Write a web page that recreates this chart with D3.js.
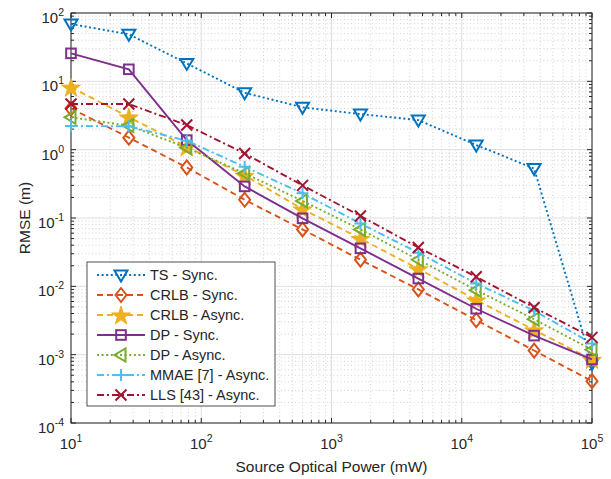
<!DOCTYPE html>
<html>
<head>
<meta charset="utf-8">
<script src="https://cdn.jsdelivr.net/npm/d3@7"></script>
<style>
  body { margin: 0; background: #fff; }
  text { font-family: "Liberation Sans", Arial, Helvetica, sans-serif; fill: #262626; }
</style>
</head>
<body>
<script>
const w = 611;
const h = 479;
const mLeft = 71, mRight = 592, mTop = 13, mBottom = 423;

// source optical power (mW), logspace(1,5,10)
const power = [10, 27.8, 77.4, 215.4, 599.5, 1668, 4642, 12915, 35938, 100000];

const tsSync    = [69, 48.8, 18.3, 6.8, 4.16, 3.32, 2.71, 1.17, 0.53, 0.00075];
const crlbSync  = [4.0, 1.5, 0.55, 0.185, 0.068, 0.0245, 0.0090, 0.0032, 0.00115, 0.00041];
const crlbAsync = [8.2, 3.0, 1.1, 0.42, 0.135, 0.050, 0.018, 0.0063, 0.0023, 0.00085];
const dpSync    = [25.7, 15.0, 1.38, 0.29, 0.099, 0.036, 0.013, 0.0047, 0.0019, 0.00085];
const dpAsync   = [2.97, 2.25, 1.07, 0.45, 0.178, 0.068, 0.0245, 0.0088, 0.0033, 0.00118];
const mmae      = [2.22, 2.2, 1.35, 0.56, 0.23, 0.083, 0.031, 0.011, 0.0044, 0.00146];
const lls       = [4.65, 4.65, 2.29, 0.88, 0.30, 0.107, 0.037, 0.0138, 0.0049, 0.00179];

const names = ["TS - Sync.", "CRLB - Sync.", "CRLB - Async.", "DP - Sync.", "DP - Async.", "MMAE [7] - Async.", "LLS [43] - Async."];
const colors = ["#0072BD", "#D95319", "#EDB120", "#7E2F8E", "#77AC30", "#4DBEEE", "#A2142F"];
const dashes = ["2,2.6", "6,4", "6,4", null, "2,2.6", "7,3,2,3", "7,3,2,3"];
const markers = ["tri-down", "diamond", "star", "square", "tri-left", "plus", "cross"];

const series = [tsSync, crlbSync, crlbAsync, dpSync, dpAsync, mmae, lls].map((v, i) => ({
  name: names[i], color: colors[i], dash: dashes[i], marker: markers[i], values: v
}));

const xTicks = [1e1, 1e2, 1e3, 1e4, 1e5];
const yTicks = [1e-4, 1e-3, 1e-2, 1e-1, 1e0, 1e1, 1e2];

const x = d3.scaleLog().domain([10, 1e5]).range([mLeft, mRight]);
const y = d3.scaleLog().domain([1e-4, 1e2]).range([mBottom, mTop]);

const svg = d3.select("body").append("svg")
  .attr("width", w)
  .attr("height", h);

// minor values
function minors(lo, hi) {
  let out = [];
  for (let e = Math.round(Math.log10(lo)); e < Math.round(Math.log10(hi)); e++) {
    for (let k = 2; k <= 9; k++) out.push(k * Math.pow(10, e));
  }
  return out;
}
const xMinor = minors(10, 1e5);
const yMinor = minors(1e-4, 1e2);

// grid
const grid = svg.append("g");
grid.selectAll(".xmin").data(xMinor).enter().append("line")
  .attr("x1", d => x(d)).attr("x2", d => x(d)).attr("y1", mTop).attr("y2", mBottom)
  .attr("stroke", "#c8c8c8").attr("stroke-width", 0.8).attr("stroke-dasharray", "1,2.5");
grid.selectAll(".ymin").data(yMinor).enter().append("line")
  .attr("y1", d => y(d)).attr("y2", d => y(d)).attr("x1", mLeft).attr("x2", mRight)
  .attr("stroke", "#c8c8c8").attr("stroke-width", 0.8).attr("stroke-dasharray", "1,2.5");
grid.selectAll(".xmaj").data(xTicks).enter().append("line")
  .attr("x1", d => x(d)).attr("x2", d => x(d)).attr("y1", mTop).attr("y2", mBottom)
  .attr("stroke", "#dedede").attr("stroke-width", 1);
grid.selectAll(".ymaj").data(yTicks).enter().append("line")
  .attr("y1", d => y(d)).attr("y2", d => y(d)).attr("x1", mLeft).attr("x2", mRight)
  .attr("stroke", "#dedede").attr("stroke-width", 1);

// box and ticks
const ax = svg.append("g").attr("stroke", "#262626").attr("stroke-width", 1);
ax.append("rect").attr("x", mLeft).attr("y", mTop).attr("width", mRight - mLeft).attr("height", mBottom - mTop)
  .attr("fill", "none");
xTicks.forEach(d => {
  ax.append("line").attr("x1", x(d)).attr("x2", x(d)).attr("y1", mBottom).attr("y2", mBottom - 5);
  ax.append("line").attr("x1", x(d)).attr("x2", x(d)).attr("y1", mTop).attr("y2", mTop + 5);
});
xMinor.forEach(d => {
  ax.append("line").attr("x1", x(d)).attr("x2", x(d)).attr("y1", mBottom).attr("y2", mBottom - 3);
  ax.append("line").attr("x1", x(d)).attr("x2", x(d)).attr("y1", mTop).attr("y2", mTop + 3);
});
yTicks.forEach(d => {
  ax.append("line").attr("y1", y(d)).attr("y2", y(d)).attr("x1", mLeft).attr("x2", mLeft + 5);
  ax.append("line").attr("y1", y(d)).attr("y2", y(d)).attr("x1", mRight).attr("x2", mRight - 5);
});
yMinor.forEach(d => {
  ax.append("line").attr("y1", y(d)).attr("y2", y(d)).attr("x1", mLeft).attr("x2", mLeft + 3);
  ax.append("line").attr("y1", y(d)).attr("y2", y(d)).attr("x1", mRight).attr("x2", mRight - 3);
});

// tick labels
xTicks.forEach(d => {
  const t = svg.append("text").attr("x", x(d)).attr("y", mBottom + 26)
    .attr("text-anchor", "middle").style("font-size", "15px");
  t.append("tspan").text("10");
  t.append("tspan").attr("dy", -7).style("font-size", "10.5px").text(Math.round(Math.log10(d)));
});
yTicks.forEach(d => {
  const t = svg.append("text").attr("x", mLeft - 7).attr("y", y(d) + 10)
    .attr("text-anchor", "end").style("font-size", "15px");
  t.append("tspan").text("10");
  t.append("tspan").attr("dy", -7).style("font-size", "10.5px").text(Math.round(Math.log10(d)));
});

// axis titles
svg.append("text")
  .attr("x", (mLeft + mRight) / 2).attr("y", 472)
  .attr("text-anchor", "middle").style("font-size", "15.5px")
  .text("Source Optical Power (mW)");
svg.append("text")
  .attr("transform", "translate(30," + ((mTop + mBottom) / 2) + ") rotate(-90)")
  .attr("text-anchor", "middle").style("font-size", "15.5px")
  .text("RMSE (m)");

// markers
function drawMarker(g, type, cx, cy, color) {
  const s = 6;
  const sw = 2;
  if (type === "tri-down") {
    g.append("path").attr("d", `M${cx - 6.5},${cy - 4.5}L${cx + 6.5},${cy - 4.5}L${cx},${cy + 6.5}Z`)
      .attr("fill", "none").attr("stroke", color).attr("stroke-width", sw);
  } else if (type === "tri-left") {
    g.append("path").attr("d", `M${cx + 4.5},${cy - 6.5}L${cx + 4.5},${cy + 6.5}L${cx - 6.5},${cy}Z`)
      .attr("fill", "none").attr("stroke", color).attr("stroke-width", sw);
  } else if (type === "diamond") {
    g.append("path").attr("d", `M${cx},${cy - 7}L${cx + 5.5},${cy}L${cx},${cy + 7}L${cx - 5.5},${cy}Z`)
      .attr("fill", "none").attr("stroke", color).attr("stroke-width", sw);
  } else if (type === "square") {
    g.append("rect").attr("x", cx - 4.8).attr("y", cy - 4.8).attr("width", 9.6).attr("height", 9.6)
      .attr("fill", "none").attr("stroke", color).attr("stroke-width", sw);
  } else if (type === "star") {
    g.append("path").attr("d", d3.symbol(d3.symbolStar, 110)())
      .attr("transform", `translate(${cx},${cy + 1})`)
      .attr("fill", color).attr("stroke", color).attr("stroke-width", 1);
  } else if (type === "plus") {
    g.append("path").attr("d", `M${cx - s},${cy}L${cx + s},${cy}M${cx},${cy - s}L${cx},${cy + s}`)
      .attr("stroke", color).attr("stroke-width", sw);
  } else if (type === "cross") {
    g.append("path").attr("d", `M${cx - 5.5},${cy - 5.5}L${cx + 5.5},${cy + 5.5}M${cx - 5.5},${cy + 5.5}L${cx + 5.5},${cy - 5.5}`)
      .attr("stroke", color).attr("stroke-width", sw);
  }
}

const line = d3.line().x(d => x(d[0])).y(d => y(d[1]));
const plot = svg.append("g");
series.forEach(s => {
  const pts = power.map((p, i) => [p, s.values[i]]);
  plot.append("path").datum(pts)
    .attr("d", line)
    .attr("fill", "none")
    .attr("stroke", s.color)
    .attr("stroke-width", 1.9)
    .attr("stroke-dasharray", s.dash);
  pts.forEach(p => drawMarker(plot, s.marker, x(p[0]), y(p[1]), s.color));
});

// legend
const lg = svg.append("g");
lg.append("rect").attr("x", 87).attr("y", 262).attr("width", 188).attr("height", 144)
  .attr("fill", "#fff").attr("stroke", "#262626").attr("stroke-width", 0.8);
series.forEach((s, i) => {
  const yy = 275 + i * 20;
  lg.append("line").attr("x1", 97).attr("x2", 145).attr("y1", yy).attr("y2", yy)
    .attr("stroke", s.color).attr("stroke-width", 1.9).attr("stroke-dasharray", s.dash);
  drawMarker(lg, s.marker, 121, yy, s.color);
  lg.append("text").attr("x", 150).attr("y", yy + 5).style("font-size", "14.5px").text(s.name);
});
</script>
</body>
</html>
